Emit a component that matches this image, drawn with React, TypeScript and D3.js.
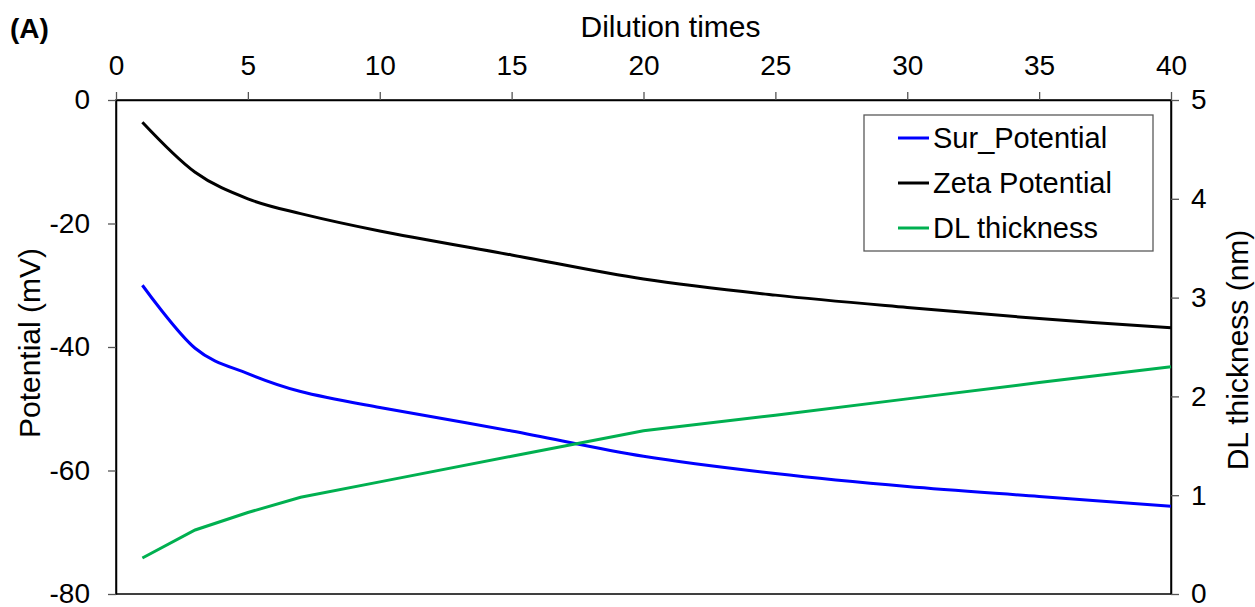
import { useEffect, useRef } from 'react';
import * as d3 from 'd3';

// Dilution times (x) shared by the three series
const dilution = [1, 3, 5, 7, 10, 15, 20, 25, 30, 35, 40];
// Surface potential (mV), left axis
const surPotential = [-30.0, -40.2, -44.3, -47.2, -49.8, -53.6, -57.7, -60.5, -62.6, -64.2, -65.8];
// Zeta potential (mV), left axis
const zetaPotential = [-3.6, -11.7, -16.0, -18.4, -21.2, -25.1, -29.0, -31.6, -33.6, -35.4, -36.9];
// Double layer thickness (nm), right axis
const dlThickness = [0.364, 0.648, 0.825, 0.979, 1.135, 1.394, 1.653, 1.81, 1.975, 2.14, 2.3];

const xTicks = [0, 5, 10, 15, 20, 25, 30, 35, 40];
const leftTicks = [0, -20, -40, -60, -80];
const rightTicks = [0, 1, 2, 3, 4, 5];

const legendItems = [
    { label: 'Sur_Potential', color: '#0000FF' },
    { label: 'Zeta Potential', color: '#000000' },
    { label: 'DL thickness', color: '#00B050' },
];

const FONT = '"Liberation Sans", Arial, sans-serif';

const App = () => {
    const svgRef = useRef<SVGSVGElement>(null);

    useEffect(() => {
        const W = 1255;
        const H = 607;
        const left = 116, right = 1171, top = 100, bottom = 594;

        const svg = d3.select(svgRef.current);
        svg.selectAll('*').remove();
        svg.attr('width', W).attr('height', H);

        svg.append('rect').attr('width', W).attr('height', H).attr('fill', 'white');

        // Escalas
        const x = d3.scaleLinear().domain([0, 40]).range([left, right]);
        const yL = d3.scaleLinear().domain([-80, 0]).range([bottom, top]);
        const yR = d3.scaleLinear().domain([0, 5]).range([bottom, top]);

        // marco del área de trazado
        svg.append('rect')
            .attr('x', left).attr('y', top)
            .attr('width', right - left).attr('height', bottom - top)
            .attr('fill', 'none').attr('stroke', '#000').attr('stroke-width', 1.5);

        const fmt = (d: any) => String(d); // guion normal, sin decimales

        const styleAxis = (g: any) => {
            g.select('.domain').attr('stroke', '#000').attr('stroke-width', 1.5);
            g.selectAll('.tick line').attr('stroke', '#555').attr('stroke-width', 1.3);
            g.selectAll('.tick text')
                .attr('fill', '#000')
                .style('font-family', FONT)
                .style('font-size', '28px');
        };

        // Eje superior
        svg.append('g')
            .attr('transform', `translate(0,${top})`)
            .call(d3.axisTop(x).tickValues(xTicks).tickSize(8).tickPadding(17).tickSizeOuter(0).tickFormat(fmt))
            .call(styleAxis);

        // Eje izquierdo
        svg.append('g')
            .attr('transform', `translate(${left},0)`)
            .call(d3.axisLeft(yL).tickValues(leftTicks).tickSize(8).tickPadding(18).tickSizeOuter(0).tickFormat(fmt))
            .call(styleAxis);

        // Eje derecho
        svg.append('g')
            .attr('transform', `translate(${right},0)`)
            .call(d3.axisRight(yR).tickValues(rightTicks).tickSize(8).tickPadding(12).tickSizeOuter(0).tickFormat(fmt))
            .call(styleAxis);

        // Líneas
        const idx = d3.range(dilution.length);
        const smooth = d3.curveCardinal.tension(0);

        const lineL = (vals: number[]) => d3.line<number>()
            .x(i => x(dilution[i]))
            .y(i => yL(vals[i]))
            .curve(smooth)(idx);

        svg.append('path').attr('d', lineL(surPotential))
            .attr('fill', 'none').attr('stroke', '#0000FF').attr('stroke-width', 3);
        svg.append('path').attr('d', lineL(zetaPotential))
            .attr('fill', 'none').attr('stroke', '#000').attr('stroke-width', 3);
        svg.append('path')
            .attr('d', d3.line<number>().x(i => x(dilution[i])).y(i => yR(dlThickness[i]))(idx))
            .attr('fill', 'none').attr('stroke', '#00B050').attr('stroke-width', 3);

        // Títulos
        svg.append('text')
            .attr('x', 10).attr('y', 38)
            .style('font-family', FONT).style('font-size', '28px').style('font-weight', 'bold')
            .text('(A)');

        svg.append('text')
            .attr('x', (left + right) / 2 + 27).attr('y', 37)
            .attr('text-anchor', 'middle')
            .style('font-family', FONT).style('font-size', '30px')
            .text('Dilution times');

        svg.append('text')
            .attr('transform', `translate(40,${(top + bottom) / 2 - 4}) rotate(-90)`)
            .attr('text-anchor', 'middle')
            .style('font-family', FONT).style('font-size', '30px')
            .text('Potential (mV)');

        svg.append('text')
            .attr('transform', `translate(1248,${(top + bottom) / 2 + 3}) rotate(-90)`)
            .attr('text-anchor', 'middle')
            .style('font-family', FONT).style('font-size', '30px')
            .text('DL thickness (nm)');

        // Leyenda
        const legend = svg.append('g');
        legend.append('rect')
            .attr('x', 864).attr('y', 115).attr('width', 289).attr('height', 136)
            .attr('fill', 'white').attr('stroke', '#595959').attr('stroke-width', 1.3);

        const rows = legend.selectAll('.legend')
            .data(legendItems)
            .enter().append('g')
            .attr('class', 'legend')
            .attr('transform', (d, i) => `translate(0,${138 + i * 45})`);

        rows.append('line')
            .attr('x1', 898).attr('x2', 929)
            .attr('stroke', d => d.color).attr('stroke-width', 3);

        rows.append('text')
            .attr('x', 933).attr('y', 10)
            .style('font-family', FONT).style('font-size', '29px')
            .text(d => d.label);
    }, []);

    return (
        <svg ref={svgRef} style={{ position: 'absolute', left: 0, top: 0, display: 'block' }}></svg>
    );
};

export default App;
